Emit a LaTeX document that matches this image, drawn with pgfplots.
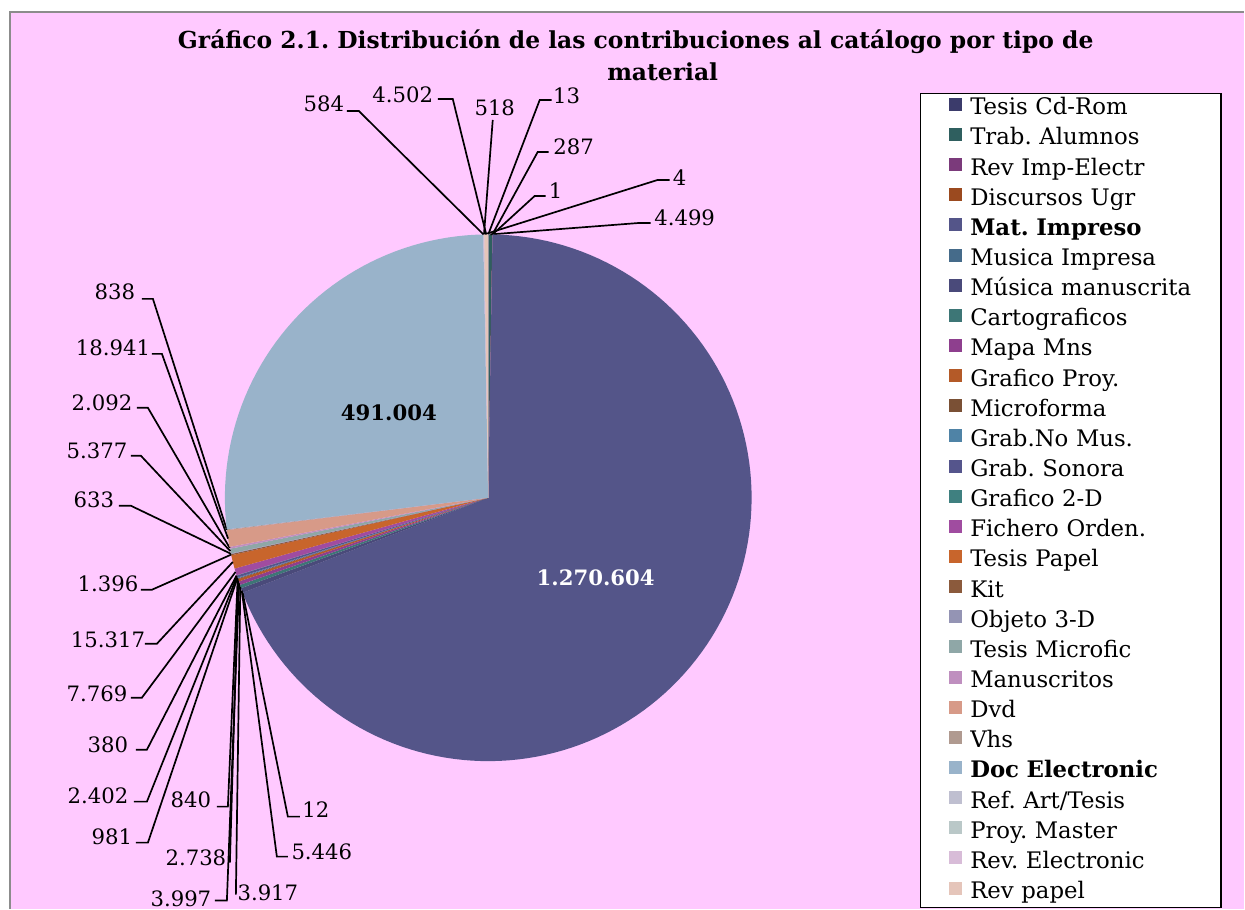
\documentclass[border=0pt]{standalone}
\usepackage{pgfplots}
\pgfplotsset{compat=1.18}
\usepackage{fontspec}
\setmainfont{DejaVu Serif}
\frenchspacing

\definecolor{bgpink}{HTML}{FFC9FF}
\definecolor{cTCD}{HTML}{3B3B6B}
\definecolor{cTA}{HTML}{2F5F5F}
\definecolor{cRIE}{HTML}{7B3A7B}
\definecolor{cDU}{HTML}{9B4A1F}
\definecolor{cMI}{HTML}{545589}
\definecolor{cMuI}{HTML}{456B8A}
\definecolor{cMuM}{HTML}{4A4A7A}
\definecolor{cCar}{HTML}{3D7676}
\definecolor{cMap}{HTML}{8E3F8E}
\definecolor{cGP}{HTML}{B45A28}
\definecolor{cMic}{HTML}{7A5035}
\definecolor{cGNM}{HTML}{4F83A6}
\definecolor{cGS}{HTML}{55558C}
\definecolor{cG2}{HTML}{3F8080}
\definecolor{cFO}{HTML}{A04CA0}
\definecolor{cTP}{HTML}{C8652C}
\definecolor{cKit}{HTML}{8B5A3C}
\definecolor{cO3}{HTML}{9494B4}
\definecolor{cTM}{HTML}{8FA7A7}
\definecolor{cMan}{HTML}{BF8FBF}
\definecolor{cDvd}{HTML}{D79A88}
\definecolor{cVhs}{HTML}{B09A90}
\definecolor{cDE}{HTML}{99B3CA}
\definecolor{cRef}{HTML}{BFBFD0}
\definecolor{cPM}{HTML}{BAC8C8}
\definecolor{cRE}{HTML}{D8BCD8}
\definecolor{cRP}{HTML}{E5C5BA}

\tikzset{
  leader/.style={draw=black, line width=0.85bp},
  lab/.style={font=\fontsize{10.6bp}{12bp}\selectfont, inner sep=0pt},
}

% value, colour, legend text, label, label x, label y, line start, line elbow (pixel coords)
\newcommand\piedata{%
\slice{13}{cTCD}{Tesis Cd-Rom}{13}{567}{96}{552,100}{540,100}%
\slice{4499}{cTA}{Trab. Alumnos}{4.499}{685}{218}{651,223}{640,223}%
\slice{287}{cRIE}{Rev Imp-Electr}{287}{574}{147}{549,152}{538,152}%
\slice{1}{cDU}{Discursos Ugr}{1}{556}{191}{546,196}{535,196}%
\slice{1270604}{cMI}{\textbf{Mat. Impreso}}{\color{white}\bfseries 1.270.604}{596}{578}{}{}%
\slice{12}{cMuI}{Musica Impresa}{12}{316}{810}{300,817}{288,817}%
\slice{5446}{cMuM}{Música manuscrita}{5.446}{322}{852}{288,857}{277,857}%
\slice{3917}{cCar}{Cartograficos}{3.917}{268}{893}{236,895}{236,895}%
\slice{3997}{cMap}{Mapa Mns}{3.997}{181}{899}{215,901}{227,901}%
\slice{2738}{cGP}{Grafico Proy.}{2.738}{196}{858}{230,863}{230,863}%
\slice{840}{cMic}{Microforma}{840}{191}{800}{217,807}{228,807}%
\slice{981}{cGNM}{Grab.No Mus.}{981}{112}{837}{136,843}{148,843}%
\slice{2402}{cGS}{Grab. Sonora}{2.402}{98}{796}{134,802}{147,802}%
\slice{380}{cG2}{Grafico 2-D}{380}{108}{745}{136,750}{147,750}%
\slice{7769}{cFO}{Fichero Orden.}{7.769}{97}{694}{131,698}{142,698}%
\slice{15317}{cTP}{Tesis Papel}{15.317}{108}{640}{145,644}{157,644}%
\slice{1396}{cKit}{Kit}{1.396}{108}{584}{141,590}{152,590}%
\slice{633}{cO3}{Objeto 3-D}{633}{94}{500}{119,506}{131,506}%
\slice{5377}{cTM}{Tesis Microfic}{5.377}{97}{451}{131,456}{141,456}%
\slice{2092}{cMan}{Manuscritos}{2.092}{102}{403}{137,408}{148,408}%
\slice{18941}{cDvd}{Dvd}{18.941}{113}{348}{152,354}{162,354}%
\slice{838}{cVhs}{Vhs}{838}{115}{292}{142,299}{153,299}%
\slice{491004}{cDE}{\textbf{Doc Electronic}}{\bfseries 491.004}{389}{413}{}{}%
\slice{584}{cRef}{Ref. Art/Tesis}{584}{324}{104}{347,111}{359,111}%
\slice{518}{cPM}{Proy. Master}{518}{495}{108}{493,120}{493,120}%
\slice{4}{cRE}{Rev. Electronic}{4}{680}{178}{670,180}{658,180}%
\slice{4502}{cRP}{Rev papel}{4.502}{403}{95}{438,99}{453,99}%
}

\def\cx{488.5}
\def\cy{498}
\def\R{263.5}

% first pass: total
\def\total{0}
\def\slice#1#2#3#4#5#6#7#8{\xdef\total{\fpeval{\total+#1}}}
\piedata

\begin{document}
\begin{tikzpicture}
\fill[white] (0,0) rectangle (622.5bp,454.5bp);
\fill[bgpink] (5bp,0) rectangle (622.5bp,448.5bp);
\draw[line width=0.6bp, black!45] (5bp,0) -- (5bp,448.5bp) -- (622.5bp,448.5bp);
\begin{axis}[
  x=0.5bp, y=0.5bp,
  xmin=0, xmax=1245, ymin=0, ymax=909,
  y dir=reverse,
  hide axis, clip=false,
  legend cell align=left,
  legend image code/.code={\fill[#1] (0bp,-1bp) rectangle (6.5bp,5.5bp);},
  legend style={at={(axis cs:920,93)}, anchor=north west,
    draw=black, line width=0.75bp, fill=white,
    inner xsep=14.5bp, inner ysep=0pt, row sep=0pt, column sep=4bp,
    font=\fontsize{11.4bp}{14bp}\selectfont,
    nodes={inner xsep=0pt, inner ysep=0pt, text height=10.5bp,
      text depth=4.58bp, text width=111bp, anchor=west}},
]
\def\cum{0}
\def\slice#1#2#3#4#5#6#7#8{%
  \edef\sa{\fpeval{round(\cum/\total*360,5)}}%
  \xdef\cum{\fpeval{\cum+#1}}%
  \edef\sb{\fpeval{round(\cum/\total*360,5)}}%
  \edef\md{\fpeval{(\sa+\sb)/2}}%
  \edef\px{\fpeval{round(\cx+\R*sind(\md),3)}}%
  \edef\py{\fpeval{round(\cy-\R*cosd(\md),3)}}%
  \ifdim\fpeval{\sb-\sa}pt<2pt
    \edef\smp{samples at={\sa,\sb}}%
  \else
    \edef\smp{domain=\sa:\sb, samples=\fpeval{ceil((\sb-\sa)/2)+2}}%
  \fi
  \edef\doplot{\noexpand\addplot[fill=#2, draw=none, \smp]
    ({\cx+\R*sin(x)},{\cy-\R*cos(x)}) -- (axis cs:\cx,\cy) -- cycle;}%
  \doplot
  \addlegendentry{#3}%
  \def\tmp{#7}%
  \ifx\tmp\empty\else
    \edef\doline{\noexpand\draw[leader] (axis cs:#7) -- (axis cs:#8) -- (axis cs:\px,\py);}%
    \doline
  \fi
  \edef\dolab{\noexpand\node[lab] at (axis cs:#5,#6) {\unexpanded{#4}};}%
  \dolab
}
\piedata
\node[font=\bfseries\fontsize{11.7bp}{14bp}\selectfont] at (axis cs:636,42)
  {Gráfico 2.1. Distribución de las contribuciones al catálogo por tipo de};
\node[font=\bfseries\fontsize{11.7bp}{14bp}\selectfont] at (axis cs:663,72) {material};
\end{axis}
\end{tikzpicture}
\end{document}
